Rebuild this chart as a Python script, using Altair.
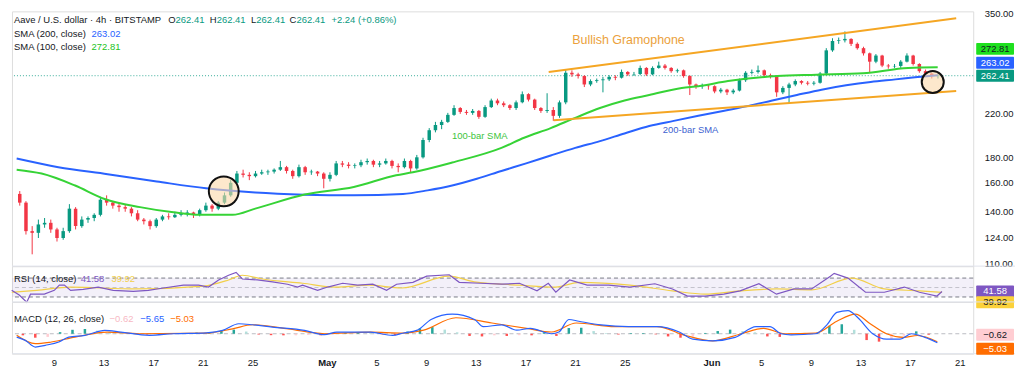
import altair as alt
import pandas as pd

FONT = "Liberation Sans"

# ---------------- price data: 12h candles starting 2025-04-06 00:00 ----------------
opens = [
    152, 146, 128, 127, 132, 133, 129, 124, 128, 142,
    131, 135, 136, 138, 148, 146, 144, 143, 142, 139,
    135, 134, 131, 135, 137, 136.5, 138, 139, 139.5, 138,
    141, 144, 142, 146, 151, 160, 167, 166, 165, 167,
    168, 168.5, 170, 172, 169, 165, 172, 168, 168.5, 167,
    163, 166, 175, 174, 173, 173.5, 176, 177, 174, 175,
    177, 173, 172, 177, 171, 180, 195, 204, 209, 212,
    219, 226, 222, 221, 223, 217, 227, 234, 231, 229,
    226, 232, 241, 235, 226, 223, 224, 218, 232, 266,
    264, 262, 252, 256, 257, 258, 261, 260, 267, 264,
    264.5, 272, 264, 272, 275, 272, 268, 269, 262, 252,
    250, 250.5, 250, 244, 246, 243, 245, 257, 266, 267,
    269, 263, 262, 243, 248, 252, 256, 254, 253, 254,
    265, 295, 308, 309, 311, 304, 298, 291, 280, 288,
    275, 274, 274.5, 280, 288, 277, 268, 265, 262,
]
highs = [
    154, 147, 131, 135, 136, 135, 130, 130, 145, 143,
    137, 137, 139, 150, 151, 147, 146, 145, 143, 141,
    136, 135, 136, 138, 139, 140, 141, 141, 140, 142,
    146, 145, 147, 153, 162, 169, 170, 168, 169, 170,
    170, 171, 177, 173, 170, 174, 173, 170, 169, 168,
    168, 177, 177, 176, 175, 178, 179, 178, 177, 179,
    178, 175, 179, 178, 182, 197, 206, 212, 214, 221,
    229, 227, 224, 225, 224, 229, 236, 236, 233, 230,
    234, 244, 242, 236, 227, 242, 227, 234, 270, 269,
    266, 263, 258, 259, 261, 263, 263, 270, 268, 267,
    275, 273, 274, 280, 277, 273, 271, 270, 263, 253,
    253, 252, 251, 248, 247, 247, 259, 268, 270, 275,
    270, 265, 263, 250, 254, 258, 257, 256, 256, 267,
    298, 312, 313, 322, 312, 306, 300, 292, 290, 289,
    277, 277, 282, 291, 289, 278, 270, 266, 264,
]
lows = [
    144, 126, 115, 124, 130, 127, 122, 123, 127, 129,
    130, 133, 134, 137, 144, 142, 140, 140, 137, 134,
    132, 129, 130, 134, 135, 136, 137, 137, 136, 137,
    140, 140, 141, 145, 150, 159, 164, 162, 164, 166,
    166, 167, 169, 167, 163, 164, 166, 166, 165, 156,
    161, 165, 172, 171, 171, 172, 174, 172, 172, 174,
    171, 168, 171, 168, 170, 179, 193, 202, 205, 211,
    218, 220, 219, 219, 215, 216, 226, 229, 227, 224,
    224, 231, 233, 224, 221, 221, 213, 216, 230, 261,
    259, 249, 250, 254, 243, 256, 257, 259, 262, 262,
    263, 262, 263, 271, 270, 266, 266, 260, 240, 247,
    247, 246, 242, 242, 240, 241, 244, 255, 264, 265,
    261, 259, 238, 241, 231, 250, 252, 251, 251, 253,
    263, 293, 304, 306, 301, 296, 288, 266, 278, 273,
    271, 272, 272, 279, 275, 266, 263, 259, 259,
]
closes = [
    146, 128, 127, 132, 133, 129, 124, 128, 142, 131,
    135, 136, 138, 148, 146, 144, 143, 142, 139, 135,
    134, 131, 135, 137, 136.5, 138, 139, 139.5, 138, 141,
    144, 142, 146, 151, 160, 167, 166, 165, 167, 168,
    168.5, 170, 172, 169, 165, 172, 168, 168.5, 167, 163,
    166, 175, 174, 173, 173.5, 176, 177, 174, 175, 177,
    173, 172, 177, 171, 180, 195, 204, 209, 212, 219,
    226, 222, 221, 223, 217, 227, 234, 231, 229, 226,
    232, 241, 235, 226, 223, 224, 218, 232, 266, 264,
    262, 252, 256, 257, 258, 261, 260, 267, 264, 264.5,
    272, 264, 272, 275, 272, 268, 269, 262, 252, 250,
    250.5, 250, 244, 246, 243, 245, 257, 266, 267, 269,
    263, 262, 243, 248, 252, 256, 254, 253, 254, 265,
    295, 308, 309, 311, 304, 298, 291, 280, 288, 275,
    274, 274.5, 280, 288, 277, 268, 265, 262, 262.41,
]

# moving averages (day offsets from 2025-04-06 00:00)
sma200_day = [0, 3.36, 7.33, 11.29, 15.26, 19.23, 23.2, 27.17, 31.13, 33.12, 35.1, 37.09, 39.07,
              41.06, 43.04, 45.02, 47.01, 48.99, 50.98, 52.96, 54.94, 56.93, 58.91, 60.9, 62.88,
              64.87, 66.85, 68.83, 70.82, 72.4, 74.23]
sma200_val = [179, 172, 166.5, 161, 156, 153, 151.5, 151, 152, 154.5, 158, 163, 169,
              175, 181.5, 188, 194, 201, 208, 213, 218, 223, 228, 234, 240,
              246, 251, 255, 258, 260.5, 263.02]
sma100_day = [0, 2.01, 4.71, 7.09, 9.94, 12.64, 14.71, 17.4, 19.23, 23.2, 27.17, 30.58, 31.93,
              35.1, 39.07, 40.9, 43.04, 45.02, 47.01, 48.99, 50.98, 53.6, 54.94, 57.33, 61.29,
              64.47, 68.2, 71.85, 74.23]
sma100_val = [170, 167, 158, 148.5, 143, 139.6, 138, 138, 142, 151.6, 157, 165.7, 168,
              175.7, 188, 197, 206, 216, 226, 234, 240, 248, 250, 256, 262,
              263.6, 265.4, 272, 272.81]

# RSI (14) and its moving average
rsi_day = [0, 0.6, 1.2, 1.5, 2.6, 3.4, 3.8, 4.2, 4.7, 5.7, 6.9, 8.1, 9.7, 10.9, 12.1, 13.7, 14.9,
           15.7, 16.5, 17.3, 17.9, 18.4, 19.6, 20.8, 22.0, 22.8, 23.2, 24.4, 25.2, 26.4, 27.6,
           28.8, 29.9, 30.7, 32.0, 33.1, 34.9, 35.7, 37.4, 39.1, 40.5, 41.9, 42.8, 43.4, 44.5,
           45.9, 47.6, 49.3, 51.3, 52.7, 53.9, 55.3, 56.8, 58.1, 59.6, 61.0, 62.4, 63.8, 65.3,
           65.6, 66.7, 68.1, 69.6, 71.2, 72.4, 73.8, 74.2]
rsi_val = [44, 34, 19, 36, 36, 44, 55, 55, 44, 46, 51, 44, 42, 44, 49, 55, 55,
           51, 66, 76, 82, 68, 66, 62, 57, 51, 55, 44, 51, 59, 55,
           57, 44, 57, 61, 74, 77, 61, 59, 57, 59, 43, 59, 40, 66,
           55, 55, 51, 58, 47, 32, 32, 36, 43, 58, 36, 47, 47, 74,
           80, 70, 40, 40, 51, 40, 32, 41.58]
rsima_day = [0, 2.0, 4.7, 9.9, 15.3, 17.3, 18.4, 20.0, 23.2, 25.8, 28.5, 31.1, 34.9, 36.9,
             40.5, 43.4, 45.3, 49.3, 52.7, 55.3, 58.1, 61.0, 63.8, 67.0, 69.6, 72.4, 74.2]
rsima_val = [40, 44, 51, 47, 53, 66, 76, 68, 59, 51, 55, 49, 74, 62,
             55, 51, 61, 55, 43, 36, 43, 47, 45, 70, 47, 43, 39.92]

# MACD (12, 26)
macd_day = [0, 0.7, 1.5, 2.3, 3.4, 4.2, 5.5, 7.1, 8.4, 10.7, 12.6, 15.3, 16.6, 17.9, 19.0, 20.6,
            23.2, 24.8, 25.8, 28.5, 30.3, 31.1, 32.3, 33.4, 35.1, 36.9, 37.6, 39.1, 40.3, 41.4,
            43.1, 43.7, 44.5, 45.3, 47.1, 49.3, 51.6, 53.4, 54.5, 56.1, 57.9, 59.6, 60.7, 61.6,
            62.4, 64.4, 65.3, 66.1, 67.0, 67.8, 69.0, 70.1, 71.2, 72.1, 73.2, 74.2]
macd_val = [-2.1, -4.2, -8.4, -7.3, -5.2, -2.1, -1.0, 2.1, 1.0, -1.0, 0, 0.6, 2.1, 6.3, 5.7, 4.2,
            2.1, -0.6, 1.0, 1.0, -1.0, 0.3, 2.3, 9.0, 12.4, 9.0, 4.5, 5.6, 2.3, 3.4,
            0, 1.1, 9.0, 7.9, 5.6, 4.5, 4.5, 1.1, -3.4, -4.5, -2.3, 4.5, 4.5, 0,
            -0.7, 0, 5.6, 13.5, 14.6, 10.1, 0, -3.4, -3.4, 0, -2.3, -5.65]
signal_day = [0, 1.5, 2.8, 4.7, 7.3, 9.9, 15.3, 17.4, 19.0, 21.9, 24.8, 28.5, 31.1, 32.8, 35.4,
              38.3, 41.1, 43.1, 45.1, 48.2, 51.6, 53.9, 56.1, 58.4, 60.2, 61.9, 64.4, 66.1, 67.6,
              68.7, 70.1, 71.5, 72.6, 74.2]
signal_val = [-1.0, -6.3, -5.2, -2.1, 1.0, 0, 0.4, 3.1, 5.7, 3.1, 0, 1.0, 0.4, 2.3, 10.1,
              6.8, 3.4, 1.1, 6.8, 4.5, 4.5, -1.1, -4.5, 0, 3.4, 0, 0.4, 7.9, 12.4,
              6.8, 0, -2.3, -1.1, -5.03]
hist_val = [-1.0, -2.5, -2.0, 1.0, 2.5, 3.0, 2.0, 1.3, 0.8, 0.4,
            -0.5, -0.8, -0.4, 0.4, 0.7, 0.9, 1.8, 2.6, 1.4, -0.5,
            -0.9, -1.0, -1.0, -0.7, -1.0, -0.5, 0.5, 0.7, 0.4, -0.5,
            -0.9, 1.4, 3.4, 4.2, 2.6, 0.9, -1.4, -1.7, -1.0, -1.4,
            -0.9, -1.0, 0.9, -1.4, 3.6, 3.8, 1.7, 0.4, -0.5, 0.4,
            0.4, -0.4, -1.7, -2.5, -1.7, 0.5, 1.7, 2.6, 1.7, 0.9,
            -1.7, -2.0, -0.9, 0.5, 0.5, 5.0, 6.0, 2.5, -4.0, -5.0,
            -3.5, -1.2, 1.5, -0.62]

# drawings
upper_day = [42.88, 75.72]
upper_val = [266.9, 342.0]
lower_day = [43.28, 75.72]
lower_val = [213.6, 244.6]
circle_day = [16.69, 73.83]
circle_val = [153.8, 254.9]

price_ticks = [110, 124, 140, 160, 180, 220, 350]
tick_dates = [(4, 9), (4, 13), (4, 17), (4, 21), (4, 25), (5, 1), (5, 5), (5, 9), (5, 13),
              (5, 17), (5, 21), (5, 25), (6, 1), (6, 5), (6, 9), (6, 13), (6, 17), (6, 21)]

last_close, last_sma200, last_sma100 = 262.41, 263.02, 272.81
last_rsi, last_rsima = 41.58, 39.92
last_hist, last_macd, last_signal = -0.62, -5.65, -5.03

# ---------------- layout ----------------
BASE = pd.Timestamp("2025-04-06 00:00:00")


def days_to_t(days):
    return [BASE + pd.Timedelta(days=float(d)) for d in days]


W = 966
H1, H2, H3 = 256, 36, 52
DARK = "#131722"
UP, DOWN = "#089981", "#f23645"
BLUE, GREEN, ORANGE = "#2962ff", "#36d336", "#f5a623"
PURPLE, YELLOW = "#7e57c2", "#f2cf4a"

xdom = [alt.DateTime(year=2025, month=4, date=6, hours=0, minutes=34),
        alt.DateTime(year=2025, month=6, date=21, hours=16, minutes=34)]
xscale = alt.Scale(domain=xdom)

tick_vals = [alt.DateTime(year=2025, month=m, date=d) for m, d in tick_dates]
x_axis = alt.Axis(values=tick_vals,
                  labelExpr="date(datum.value) == 1 ? timeFormat(datum.value, '%b') : timeFormat(datum.value, '%-d')",
                  grid=False, domain=False, ticks=False, labelColor=DARK, labelFontSize=9.5,
                  labelFont=FONT, labelPadding=4, title=None, labelFlush=False, labelOverlap=False,
                  labelFontWeight={"condition": {"test": "date(datum.value) == 1", "value": "bold"},
                                   "value": "normal"})


def XT(axis=None):
    return alt.X("t:T", scale=xscale, axis=axis)


ym_scale = alt.Scale(type="log", domain=[108.9, 353.2], nice=False, zero=False)
ym_axis = alt.Axis(orient="right", values=price_ticks, format=".2f", grid=False, domain=False,
                   ticks=False, labelColor=DARK, labelFontSize=9.5, labelFont=FONT,
                   labelPadding=11, title=None)


def YM(f):
    return alt.Y(f, type="quantitative", scale=ym_scale, axis=ym_axis)


yr_scale = alt.Scale(domain=[19.5, 95.3], nice=False, zero=False)


def YR(f):
    return alt.Y(f, type="quantitative", scale=yr_scale, axis=None)


yd_scale = alt.Scale(domain=[-12.6, 20.1], nice=False, zero=False)


def YD(f):
    return alt.Y(f, type="quantitative", scale=yd_scale, axis=None)


one = pd.DataFrame({"k": [0]})


def txt(px, py, s, color, size=9.5, weight="normal"):
    return alt.Chart(one).mark_text(align="left", baseline="middle", font=FONT, fontSize=size,
                                    color=color, fontWeight=weight).encode(
        x=alt.value(px), y=alt.value(py), text=alt.value(s))


def fmt(v):
    return f"{v:.2f}".replace("-", "\u2212")


def tag(value, bg, fg, dy, yfn):
    df = pd.DataFrame({"v": [value], "s": [fmt(value)]})
    rect = alt.Chart(df).mark_rect(color=bg, yOffset=dy - 6, y2Offset=dy + 6, cornerRadius=1).encode(
        x=alt.value(W + 3), x2=alt.value(W + 41), y=yfn("v"), y2="v")
    label = alt.Chart(df).mark_text(color=fg, font=FONT, fontSize=9.5, align="center",
                                    baseline="middle", dy=dy).encode(
        x=alt.value(W + 22), y=yfn("v"), text="s:N")
    return [rect, label]


def separator(py):
    return alt.Chart(one).mark_rule(color="#e0e3eb", strokeWidth=1).encode(
        x=alt.value(0), x2=alt.value(W + 42), y=alt.value(py))


# ---------------- main price pane ----------------
candles = pd.DataFrame({
    "t": [BASE + pd.Timedelta(hours=12 * i + 6) for i in range(len(closes))],
    "o": opens, "h": highs, "l": lows, "c": closes,
})
candles["dir"] = ["up" if c >= o else "down" for o, c in zip(opens, closes)]
ccol = alt.Color("dir:N", scale=alt.Scale(domain=["up", "down"], range=[UP, DOWN]), legend=None)

main_layers = [
    alt.Chart(pd.DataFrame({"v": [last_close]})).mark_rule(
        color=UP, strokeWidth=1, strokeDash=[1, 2], opacity=0.8).encode(y=YM("v")),
    alt.Chart(candles).mark_rule(strokeWidth=1).encode(x=XT(), y=YM("l"), y2="h", color=ccol),
    alt.Chart(candles).mark_bar(size=3.5).encode(x=XT(), y=YM("o"), y2="c", color=ccol),
    alt.Chart(pd.DataFrame({"t": days_to_t(sma200_day), "v": sma200_val})).mark_line(
        color=BLUE, strokeWidth=2, interpolate="monotone").encode(x=XT(), y=YM("v")),
    alt.Chart(pd.DataFrame({"t": days_to_t(sma100_day), "v": sma100_val})).mark_line(
        color=GREEN, strokeWidth=2, interpolate="monotone").encode(x=XT(), y=YM("v")),
    alt.Chart(pd.DataFrame({"t": days_to_t(upper_day + lower_day), "v": upper_val + lower_val,
                            "g": ["upper", "upper", "lower", "lower"]})).mark_line(
        color=ORANGE, strokeWidth=2).encode(x=XT(), y=YM("v"), detail="g:N"),
]
for d, v, size in [(circle_day[0], circle_val[0], 900), (circle_day[1], circle_val[1], 490)]:
    main_layers.append(
        alt.Chart(pd.DataFrame({"t": days_to_t([d]), "v": [v]})).mark_point(
            shape="circle", size=size, filled=True, fill="#fbd8aa", fillOpacity=0.6,
            stroke="#111111", strokeWidth=2, opacity=1).encode(x=XT(), y=YM("v")))

for d, v, s, color, size in [(49.31, 309.2, "Bullish Gramophone", "#eba13c", 12.5),
                             (37.32, 198.9, "100-bar SMA", "#3cc43c", 9.5),
                             (54.31, 204.5, "200-bar SMA", "#3d5fd0", 9.5)]:
    main_layers.append(
        alt.Chart(pd.DataFrame({"t": days_to_t([d]), "v": [v]})).mark_text(
            font=FONT, fontSize=size, color=color, align="center", baseline="middle").encode(
            x=XT(), y=YM("v"), text=alt.value(s)))

main_layers += [
    txt(2, 9, "Aave / U.S. dollar \u00b7 4h \u00b7 BITSTAMP", DARK),
    txt(157, 9, "O", DARK), txt(164.4, 9, fmt(last_close), UP),
    txt(198.7, 9, "H", DARK), txt(205.7, 9, fmt(last_close), UP),
    txt(240.3, 9, "L", DARK), txt(245.6, 9, fmt(last_close), UP),
    txt(279, 9, "C", DARK), txt(285.9, 9, fmt(last_close), UP),
    txt(321, 9, "+2.24 (+0.86%)", UP),
    txt(2, 23, "SMA (200, close)", DARK), txt(80, 23, fmt(last_sma200), BLUE),
    txt(2, 36, "SMA (100, close)", DARK), txt(80, 36, fmt(last_sma100), "#22c322"),
]
main_layers += tag(last_close, UP, "white", 0, YM)
main_layers += tag(last_sma200, BLUE, "white", -12.5, YM)
main_layers += tag(last_sma100, "#1ee01e", DARK, -18.5, YM)

main = alt.layer(*main_layers).properties(width=W, height=H1)

# ---------------- RSI pane ----------------
rsi_layers = [
    alt.Chart(pd.DataFrame({"lo": [30], "hi": [70]})).mark_rect(color=PURPLE, opacity=0.09).encode(
        x=alt.value(0), x2=alt.value(W), y=YR("hi"), y2="lo"),
    alt.Chart(pd.DataFrame({"v": [70, 30]})).mark_rule(
        color="#787b86", strokeDash=[4, 3], strokeWidth=1).encode(y=YR("v")),
    alt.Chart(pd.DataFrame({"v": [50]})).mark_rule(
        color="#787b86", strokeDash=[4, 3], strokeWidth=1, opacity=0.4).encode(y=YR("v")),
    alt.Chart(pd.DataFrame({"t": days_to_t(rsima_day), "v": rsima_val})).mark_line(
        color=YELLOW, strokeWidth=1.2, interpolate="monotone").encode(x=XT(), y=YR("v")),
    alt.Chart(pd.DataFrame({"t": days_to_t(rsi_day), "v": rsi_val})).mark_line(
        color=PURPLE, strokeWidth=1.2).encode(x=XT(), y=YR("v")),
    separator(0),
    txt(2, 13, "RSI (14, close)", DARK),
    txt(69, 13, fmt(last_rsi), PURPLE),
    txt(100, 13, fmt(last_rsima), YELLOW),
]
rsi_layers += tag(last_rsi, PURPLE, "white", 0, YR)
rsi_layers += tag(last_rsima, "#fbd13a", DARK, 10, YR)
rsi = alt.layer(*rsi_layers).properties(width=W, height=H2)

# ---------------- MACD pane ----------------
cats = []
prev = 0.0
for v in hist_val:
    if v >= 0:
        cats.append("pos_up" if v >= prev else "pos_dn")
    else:
        cats.append("neg_dn" if v < prev else "neg_up")
    prev = v
hist_df = pd.DataFrame({"t": days_to_t([i + 0.5 for i in range(len(hist_val))]),
                        "h": hist_val, "z": [0] * len(hist_val), "cat": cats})
hcol = alt.Color("cat:N", scale=alt.Scale(domain=["pos_up", "pos_dn", "neg_dn", "neg_up"],
                                          range=["#26a69a", "#b2dfdb", "#ff5252", "#ffcdd2"]),
                 legend=None)

macd_layers = [
    alt.Chart(pd.DataFrame({"v": [0]})).mark_rule(
        color="#787b86", strokeDash=[4, 3], strokeWidth=1, opacity=0.5).encode(y=YD("v")),
    alt.Chart(hist_df).mark_bar(size=2.5).encode(x=XT(x_axis), y=YD("h"), y2="z", color=hcol),
    alt.Chart(pd.DataFrame({"t": days_to_t(signal_day), "v": signal_val})).mark_line(
        color="#ff6d00", strokeWidth=1.2, interpolate="monotone").encode(x=XT(x_axis), y=YD("v")),
    alt.Chart(pd.DataFrame({"t": days_to_t(macd_day), "v": macd_val})).mark_line(
        color=BLUE, strokeWidth=1.2, interpolate="monotone").encode(x=XT(x_axis), y=YD("v")),
    separator(0),
    separator(H3),
    txt(2, 17, "MACD (12, 26, close)", DARK),
    txt(98, 17, fmt(last_hist), "#f7b9c4"),
    txt(129, 17, fmt(last_macd), BLUE),
    txt(159, 17, fmt(last_signal), "#ff6d00"),
]
macd_layers += tag(last_hist, "#ffcdd2", DARK, 0, YD)
macd_layers += tag(last_signal, "#ff6d00", "white", 7, YD)
macd = alt.layer(*macd_layers).properties(width=W, height=H3)

chart = alt.vconcat(
    main, rsi, macd, spacing=0, bounds="flush",
    padding={"left": 0, "top": -1.5, "right": 0, "bottom": 0},
).resolve_scale(
    x="independent", y="independent", color="independent"
).properties(background="white").configure_view(stroke=None).configure(font=FONT)

chart.save("out.html", embed_options={"renderer": "svg", "actions": False})
